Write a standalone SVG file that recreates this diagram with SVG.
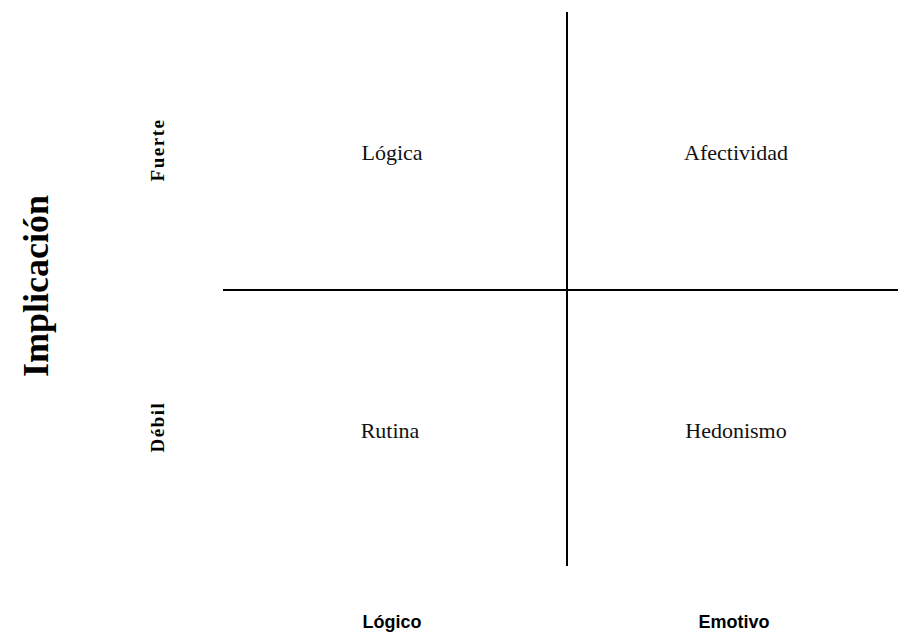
<svg xmlns="http://www.w3.org/2000/svg" width="898" height="632" viewBox="0 0 898 632">
<style>
.ax{stroke:#000;stroke-width:2;fill:none}
.q{font-family:"Liberation Serif","Times New Roman",serif;font-size:22px;fill:#111;text-anchor:middle}
.lab{font-family:"Liberation Serif","Times New Roman",serif;font-weight:bold;font-size:19px;fill:#000;text-anchor:middle;letter-spacing:1.5px}
.big{font-family:"Liberation Serif","Times New Roman",serif;font-weight:bold;font-size:36px;fill:#000;text-anchor:middle}
.bot{font-family:"Liberation Sans",Arial,sans-serif;font-weight:bold;font-size:18px;fill:#000;text-anchor:middle}
</style>
<rect width="898" height="632" fill="#fff"/>
<g id="axes">
<line class="ax" x1="567" y1="12" x2="567" y2="566"/>
<line class="ax" x1="223" y1="290" x2="898" y2="290"/>
</g>
<g id="implicacion"><text class="big" transform="translate(48,286) rotate(-90)">Implicación</text></g>
<g id="fuerte"><text class="lab" transform="translate(164,150) rotate(-90)">Fuerte</text></g>
<g id="debil"><text class="lab" transform="translate(164,427) rotate(-90)">Débil</text></g>
<g id="logica"><text class="q" x="392" y="160">Lógica</text></g>
<g id="afectividad"><text class="q" x="736" y="160">Afectividad</text></g>
<g id="rutina"><text class="q" x="390" y="438">Rutina</text></g>
<g id="hedonismo"><text class="q" x="736" y="438">Hedonismo</text></g>
<g id="logico"><text class="bot" x="392" y="628">Lógico</text></g>
<g id="emotivo"><text class="bot" x="734" y="628">Emotivo</text></g>
</svg>
